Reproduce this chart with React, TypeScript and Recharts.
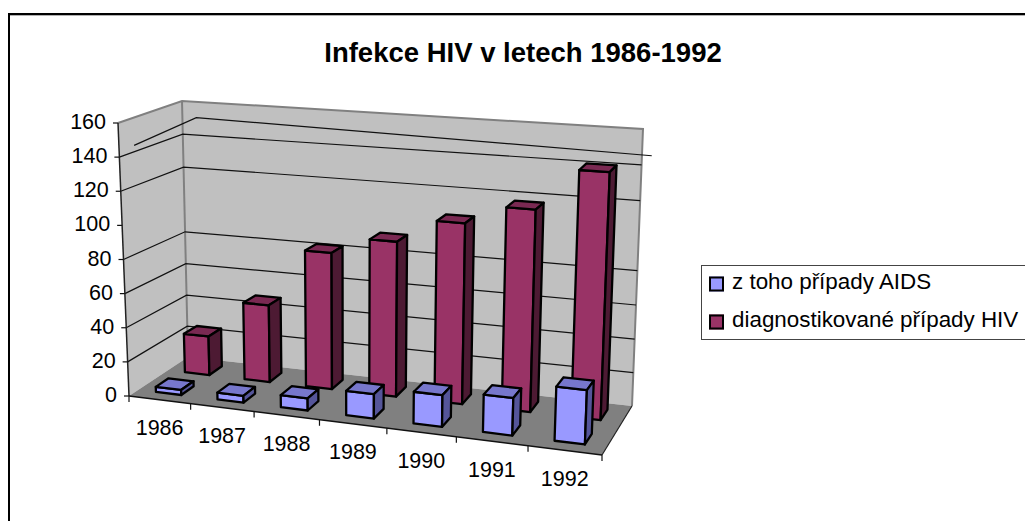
import React from "react"
import { BarChart, Bar, XAxis, YAxis, Legend, Customized } from "recharts"

const years = ["1986", "1987", "1988", "1989", "1990", "1991", "1992"]
const aidsCases = [3, 4, 7, 14, 18, 21, 30]
const hivCases = [24, 47, 82, 92, 106, 117, 141]
const yTicks = [0, 20, 40, 60, 80, 100, 120, 140, 160]

const AIDS_LABEL = "z toho případy AIDS"
const HIV_LABEL = "diagnostikované případy HIV"
const TITLE = "Infekce HIV v letech 1986-1992"

const data = years.map((year, i) => ({ year, aids: aidsCases[i], hiv: hivCases[i] }))

const W = 1025
const H = 521
const PLOT = { left: 129, right: 602, top: 123, bottom: 396 }
const FONT = "'Liberation Sans', Arial, sans-serif"
const Y_MAX = 160
const LEGEND_H = 75

type Pt = [number, number]

// box corners on screen, the chart is a fake 3D one
const FLB: Pt = [129, 396]
const FLT: Pt = [118, 123]
const BLB: Pt = [188, 357]
const BLT: Pt = [182, 101]
const FRB: Pt = [602, 455]
const FRT: Pt = [614, 159]
const BRB: Pt = [632, 406]
const BRT: Pt = [643, 129]

const lerp = (a: Pt, b: Pt, t: number): Pt => [a[0] + (b[0] - a[0]) * t, a[1] + (b[1] - a[1]) * t]

// u across categories, v height, d depth, all 0..1
function project(u: number, v: number, d: number): Pt {
  const k = 0.899
  const uu = (k * u) / (1 + (k - 1) * u)
  const vv = v - d * 0.044 * v * (1 - v) // back wall sags a bit in the middle
  const bottom = lerp(lerp(FLB, FRB, uu), lerp(BLB, BRB, uu), d)
  const top = lerp(lerp(FLT, FRT, uu), lerp(BLT, BRT, uu), d)
  return lerp(bottom, top, vv)
}

const toU = (x: number) => (x - PLOT.left) / (PLOT.right - PLOT.left)
const toV = (y: number) => (PLOT.bottom - y) / (PLOT.bottom - PLOT.top)
const pts = (list: Pt[]) => list.map((p) => p.join(",")).join(" ")

function bar3d(d0: number, d1: number, faces: string[]) {
  return (props: any) => {
    const { x, y, width, height } = props
    const u0 = toU(x)
    const u1 = toU(x + width)
    const v1 = toV(y)
    const v0 = toV(y + height)
    const front = [project(u0, v0, d0), project(u1, v0, d0), project(u1, v1, d0), project(u0, v1, d0)]
    const side = [project(u1, v0, d0), project(u1, v0, d1), project(u1, v1, d1), project(u1, v1, d0)]
    const top = [project(u0, v1, d0), project(u1, v1, d0), project(u1, v1, d1), project(u0, v1, d1)]
    const line = { stroke: "#000", strokeWidth: 2.3, strokeLinejoin: "round" as const }
    return (
      <g>
        <polygon points={pts(front)} fill={faces[0]} {...line} />
        <polygon points={pts(top)} fill={faces[1]} {...line} />
        <polygon points={pts(side)} fill={faces[2]} {...line} />
      </g>
    )
  }
}

function Walls() {
  const grid = yTicks.filter((t) => t !== 0 && t !== 100 && t !== 160)
  const g100 = 100 / Y_MAX
  const a = project(0, g100, 0)
  const b = project(0, g100, 1)
  const c = project(1, g100, 1)
  // this gridline sits off the wall in the original
  const stray: Pt[] = [
    [a[0] + 12, a[1] - 80],
    [b[0] + 12, b[1] - 82],
    [c[0] + 13, c[1] - 80],
  ]
  return (
    <g>
      <text x={523} y={62} textAnchor="middle" fontFamily={FONT} fontWeight="bold" fontSize={27.5} fill="#000">
        {TITLE}
      </text>
      <polygon points={pts([FLB, FLT, BLT, BLB])} fill="#c0c0c0" />
      <polygon points={pts([BLB, BLT, BRT, BRB])} fill="#c0c0c0" />
      <polygon points={pts([FLB, BLB, BRB, FRB])} fill="#808080" />
      <polyline points={pts([FLT, BLT, BRT, BRB])} fill="none" stroke="#808080" strokeWidth={2} />
      <line x1={BLT[0]} y1={BLT[1]} x2={BLB[0]} y2={BLB[1]} stroke="#808080" strokeWidth={2} />
      {grid.map((t) => {
        const v = t / Y_MAX
        return (
          <polyline
            key={t}
            points={pts([project(0, v, 0), project(0, v, 1), project(1, v, 1)])}
            fill="none"
            stroke="#111"
            strokeWidth={1.2}
          />
        )
      })}
      <polyline points={pts(stray)} fill="none" stroke="#111" strokeWidth={1.2} />
      <line x1={FRB[0]} y1={FRB[1]} x2={BRB[0]} y2={BRB[1]} stroke="#222" strokeWidth={1.2} />
      <line x1={FLT[0]} y1={FLT[1]} x2={FLB[0]} y2={FLB[1]} stroke="#222" strokeWidth={1.5} />
      <line x1={FLB[0]} y1={FLB[1]} x2={FRB[0]} y2={FRB[1]} stroke="#111" strokeWidth={1.5} />
      {years.map((_, i) => {
        const p = project((i + 1) / years.length, 0, 0)
        return <line key={i} x1={p[0]} y1={p[1]} x2={p[0]} y2={p[1] + 6} stroke="#111" strokeWidth={1.2} />
      })}
      <line x1={FLB[0]} y1={FLB[1]} x2={FLB[0]} y2={FLB[1] + 6} stroke="#111" strokeWidth={1.2} />
    </g>
  )
}

function YTick(props: any) {
  const { y, payload } = props
  const p = project(0, toV(y), 0)
  return (
    <g>
      <line x1={p[0] - 5} y1={p[1]} x2={p[0]} y2={p[1]} stroke="#111" strokeWidth={1.2} />
      <text x={p[0] - 12} y={p[1] + 6} textAnchor="end" fontFamily={FONT} fontSize={21.5} fill="#000">
        {payload.value}
      </text>
    </g>
  )
}

function XTick(props: any) {
  const { x, payload } = props
  const p = project(toU(x), 0, 0)
  return (
    <text x={p[0]} y={p[1] + 35.5} textAnchor="middle" fontFamily={FONT} fontSize={21.5} fill="#000">
      {payload.value}
    </text>
  )
}

function LegendBox(props: any) {
  const items = [...(props.payload || [])].reverse()
  return (
    <div style={{ fontFamily: FONT, fontSize: 22.4, color: "#000", marginTop: -3 }}>
      {items.map((item: any) => (
        <div key={item.value} style={{ display: "flex", alignItems: "center", height: 38, paddingLeft: 7 }}>
          <span
            style={{
              display: "inline-block",
              width: 11,
              height: 11,
              background: item.color,
              border: "2px solid #000",
              marginRight: 8,
              transform: "translateY(1.5px)",
            }}
          />
          <span style={{ whiteSpace: "nowrap" }}>{item.value}</span>
        </div>
      ))}
    </div>
  )
}

export default function App() {
  return (
    <div style={{ position: "fixed", left: 0, top: 0, width: W, height: H, overflow: "hidden", background: "#fff" }}>
      <div style={{ position: "absolute", left: 8, top: 13, right: -10, bottom: -10, borderLeft: "2px solid #000", borderTop: "2px solid #000" }} />
      <div style={{ position: "absolute", left: 10, top: 15, right: 0, height: 1, background: "#b0b0b0" }} />
      <BarChart
        width={W}
        height={H}
        data={data}
        margin={{ top: PLOT.top - LEGEND_H, right: W - PLOT.right, left: PLOT.left - 60, bottom: H - PLOT.bottom - 30 }}
        barCategoryGap="29%"
        style={{ position: "absolute", left: 0, top: 0 }}
      >
        <Customized component={Walls} />
        <XAxis xAxisId="back" dataKey="year" height={30} axisLine={false} tickLine={false} tick={XTick} interval={0} />
        <XAxis xAxisId="front" dataKey="year" hide />
        <YAxis width={60} domain={[0, Y_MAX]} ticks={yTicks} axisLine={false} tickLine={false} tick={YTick} interval={0} />
        <Legend
          content={LegendBox}
          verticalAlign="top"
          align="left"
          wrapperStyle={{ left: 701, top: 265, width: 340, height: LEGEND_H, boxSizing: "border-box", border: "1.5px solid #444", background: "#fff" }}
        />
        <Bar
          xAxisId="back"
          dataKey="hiv"
          name={HIV_LABEL}
          fill="#993366"
          isAnimationActive={false}
          shape={bar3d(0.66, 0.88, ["#993366", "#7a2952", "#4d1a33"])}
        />
        <Bar
          xAxisId="front"
          dataKey="aids"
          name={AIDS_LABEL}
          fill="#9999ff"
          isAnimationActive={false}
          shape={bar3d(0.16, 0.38, ["#9999ff", "#7777cc", "#55559a"])}
        />
      </BarChart>
    </div>
  )
}
